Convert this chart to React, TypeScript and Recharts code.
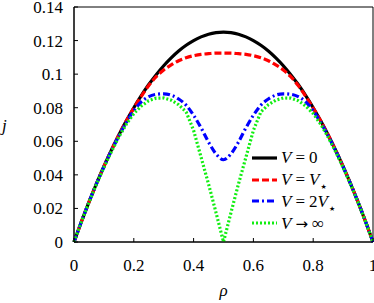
import { Label, Line, LineChart, ReferenceArea, XAxis, YAxis } from "recharts";

const RHO = [
  0, 0.025, 0.05, 0.075, 0.1, 0.125, 0.15, 0.175, 0.2, 0.225, 0.25, 0.275, 0.3, 0.325, 0.35, 0.375, 0.4, 0.425,
  0.45, 0.475, 0.5, 0.525, 0.55, 0.575, 0.6, 0.625, 0.65, 0.675, 0.7, 0.725, 0.75, 0.775, 0.8, 0.825, 0.85, 0.875,
  0.9, 0.925, 0.95, 0.975, 1,
];

const J_V0 = [
  0, 0.0122, 0.0238, 0.0347, 0.045, 0.0547, 0.0638, 0.0722, 0.08, 0.0872, 0.0938, 0.0997, 0.105, 0.1097, 0.1138,
  0.1172, 0.12, 0.1222, 0.1238, 0.1247, 0.125, 0.1247, 0.1238, 0.1222, 0.12, 0.1172, 0.1138, 0.1097, 0.105, 0.0997,
  0.0938, 0.0872, 0.08, 0.0722, 0.0638, 0.0547, 0.045, 0.0347, 0.0238, 0.0122, 0,
];

const J_VSTAR = [
  0, 0.0122, 0.0238, 0.0347, 0.045, 0.0547, 0.0638, 0.0722, 0.0798, 0.0868, 0.0932, 0.0985, 0.1025, 0.1055, 0.108,
  0.1098, 0.111, 0.1118, 0.1122, 0.1125, 0.1125, 0.1125, 0.1122, 0.1118, 0.111, 0.1098, 0.108, 0.1055, 0.1025,
  0.0985, 0.0932, 0.0868, 0.0798, 0.0722, 0.0638, 0.0547, 0.045, 0.0347, 0.0238, 0.0122, 0,
];

const J_2VSTAR = [
  0, 0.0122, 0.0238, 0.0346, 0.0448, 0.0544, 0.0632, 0.0712, 0.0782, 0.0835, 0.0866, 0.088, 0.0883, 0.0875, 0.0852,
  0.0815, 0.0755, 0.068, 0.0595, 0.0525, 0.049, 0.0525, 0.0595, 0.068, 0.0755, 0.0815, 0.0852, 0.0875, 0.0883,
  0.088, 0.0866, 0.0835, 0.0782, 0.0712, 0.0632, 0.0544, 0.0448, 0.0346, 0.0238, 0.0122, 0,
];

const J_INF = [
  0, 0.0121, 0.0236, 0.0344, 0.0444, 0.0538, 0.0625, 0.0702, 0.0765, 0.081, 0.0842, 0.0857, 0.0858, 0.0845, 0.0818,
  0.0775, 0.0665, 0.0505, 0.0345, 0.0175, 0, 0.0175, 0.0345, 0.0505, 0.0665, 0.0775, 0.0818, 0.0845, 0.0858, 0.0857,
  0.0842, 0.081, 0.0765, 0.0702, 0.0625, 0.0538, 0.0444, 0.0344, 0.0236, 0.0121, 0,
];

const X_TICKS = [0, 0.2, 0.4, 0.6, 0.8, 1];
const Y_TICKS = [0, 0.02, 0.04, 0.06, 0.08, 0.1, 0.12, 0.14];

const data = RHO.map((rho, i) => ({
  rho,
  v0: J_V0[i],
  vstar: J_VSTAR[i],
  v2star: J_2VSTAR[i],
  vinf: J_INF[i],
}));

const FONT = "'Liberation Serif', serif";
const tickStyle = { fontFamily: FONT, fontSize: 17, fill: "#000" };

const SERIES = [
  { key: "v0", color: "#000000", dash: undefined, label: "0" },
  { key: "vstar", color: "#ff0000", dash: "7 3", label: "star" },
  { key: "v2star", color: "#0000ff", dash: "7 3 2 3", label: "2star" },
  { key: "vinf", color: "#11ee11", dash: "2 2", label: "inf" },
];

// math-ish legend labels: italic V, spaced relation, small star subscript
function LegendText({ kind }: { kind: string }) {
  const star = <span style={{ fontSize: 7, fontFamily: "'DejaVu Sans'", position: "relative", top: 4, marginLeft: 1 }}>★</span>;
  const V = <i>V</i>;
  const rel = (sym: string) => <span style={{ margin: "0 4px" }}>{sym}</span>;
  if (kind === "0") return <span>{V}{rel("=")}0</span>;
  if (kind === "star") return <span>{V}{rel("=")}{V}{star}</span>;
  if (kind === "2star") return <span>{V}{rel("=")}2{V}{star}</span>;
  return (
    <span>
      {V}
      <span style={{ margin: "0 4px", fontFamily: "'DejaVu Sans'", fontSize: 15 }}>→</span>∞
    </span>
  );
}

function ChartLegend() {
  return (
    <div style={{ position: "absolute", left: 250, top: 147, fontFamily: FONT, fontSize: 17, color: "#000", lineHeight: 1 }}>
      {SERIES.map((s) => (
        <div key={s.key} style={{ display: "flex", alignItems: "center", height: 21.8, whiteSpace: "nowrap" }}>
          <svg width={28} height={6} style={{ marginRight: 3 }}>
            <line x1={2} y1={3} x2={27} y2={3} stroke={s.color} strokeWidth={3.2} strokeDasharray={s.dash} />
          </svg>
          <LegendText kind={s.label} />
        </div>
      ))}
    </div>
  );
}

export default function App() {
  return (
    <div style={{ position: "absolute", left: 0, top: 0, width: 374, height: 303, background: "#fff", fontFamily: FONT }}>
      <LineChart width={374} height={303} data={data} margin={{ top: 7, right: 1, left: 0, bottom: 0 }}>
        <XAxis
          dataKey="rho"
          type="number"
          domain={[0, 1]}
          ticks={X_TICKS}
          interval={0}
          tick={tickStyle}
          tickSize={-4}
          tickMargin={21}
          tickLine={{ stroke: "#000" }}
          axisLine={{ stroke: "#000" }}
          height={61}
        >
          <Label value="ρ" position="insideBottom" offset={7} style={{ fontFamily: FONT, fontSize: 17, fontStyle: "italic", fill: "#000" }} />
        </XAxis>
        <YAxis
          type="number"
          domain={[0, 0.14]}
          ticks={Y_TICKS}
          interval={0}
          tick={tickStyle}
          tickSize={-4}
          tickMargin={15}
          tickLine={{ stroke: "#000" }}
          axisLine={{ stroke: "#000" }}
          width={74}
        >
          <Label value="j" position="insideLeft" offset={2} style={{ fontFamily: FONT, fontSize: 17, fontStyle: "italic", fill: "#000" }} />
        </YAxis>
        <ReferenceArea x1={0} x2={1} y1={0} y2={0.14} fill="none" stroke="#000" strokeWidth={1} />
        {SERIES.map((s) => (
          <Line
            key={s.key}
            dataKey={s.key}
            type={s.key === "vinf" ? "linear" : "monotone"}
            stroke={s.color}
            strokeWidth={3.2}
            strokeDasharray={s.dash}
            dot={false}
            isAnimationActive={false}
          />
        ))}
      </LineChart>
      <ChartLegend />
    </div>
  );
}
